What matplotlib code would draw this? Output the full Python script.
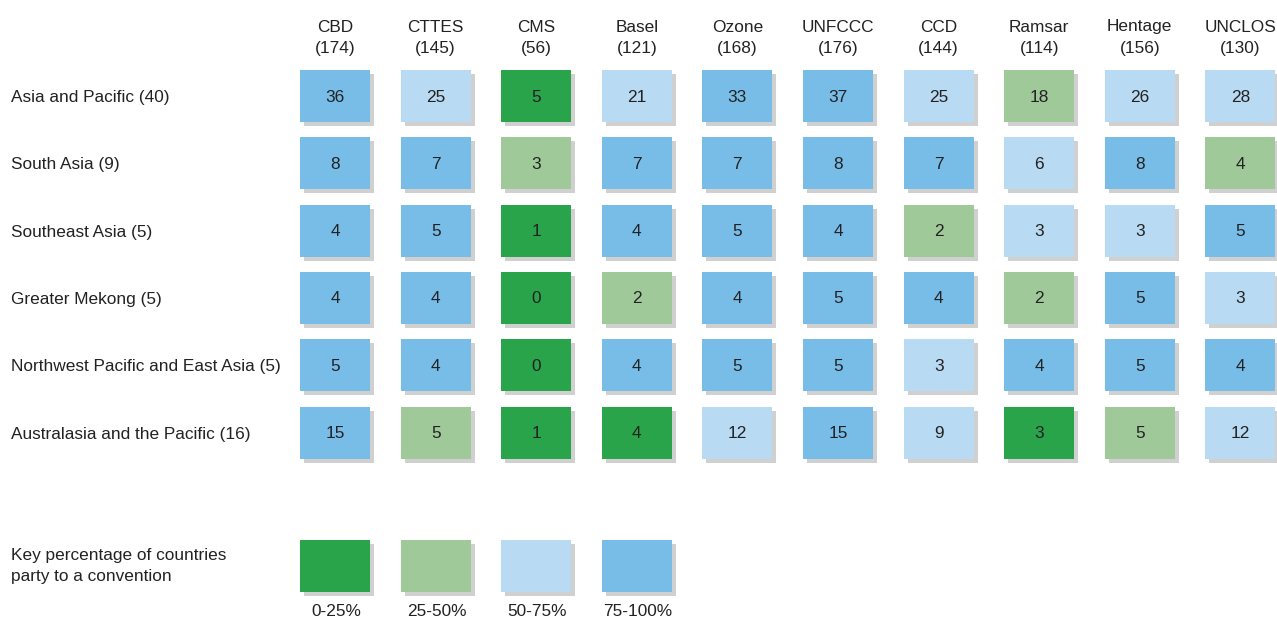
import matplotlib.pyplot as plt
from matplotlib.patches import Rectangle

# conventions and number of parties
conventions = ['CBD', 'CTTES', 'CMS', 'Basel', 'Ozone', 'UNFCCC', 'CCD', 'Ramsar', 'Hentage', 'UNCLOS']
parties = [174, 145, 56, 121, 168, 176, 144, 114, 156, 130]

regions = ['Asia and Pacific', 'South Asia', 'Southeast Asia', 'Greater Mekong',
           'Northwest Pacific and East Asia', 'Australasia and the Pacific']
region_sizes = [40, 9, 5, 5, 5, 16]

counts = [
    [36, 25, 5, 21, 33, 37, 25, 18, 26, 28],
    [8, 7, 3, 7, 7, 8, 7, 6, 8, 4],
    [4, 5, 1, 4, 5, 4, 2, 3, 3, 5],
    [4, 4, 0, 2, 4, 5, 4, 2, 5, 3],
    [5, 4, 0, 4, 5, 5, 3, 4, 5, 4],
    [15, 5, 1, 4, 12, 15, 9, 3, 5, 12],
]

key_labels = ['0-25%', '25-50%', '50-75%', '75-100%']
key_colors = ['#2aa44b', '#a0c999', '#b8daf2', '#78bde8']
shadow_color = '#d0d0d0'

plt.rcParams['font.family'] = ['Liberation Sans', 'DejaVu Sans']

fig = plt.figure(figsize=(12.77, 6.19), dpi=100)
ax = fig.add_axes([0, 0, 1, 1])
ax.set_xlim(0, 1277)
ax.set_ylim(619, 0)
ax.axis('off')

# layout in pixels
x0, dx = 335, 100.6
y0, dy = 96, 67.3
bw, bh = 70, 52
sh = 4
fs = 12.4
txt = '#222222'


def category(n, total):
    pct = 100.0 * n / total
    if pct <= 25:
        return 0
    if pct <= 50:
        return 1
    if pct <= 75:
        return 2
    return 3


def box(cx, cy, color):
    ax.add_patch(Rectangle((cx - bw / 2 + sh, cy - bh / 2 + sh), bw, bh,
                           facecolor=shadow_color, edgecolor='none'))
    ax.add_patch(Rectangle((cx - bw / 2, cy - bh / 2), bw, bh,
                           facecolor=color, edgecolor='none'))


for j, (name, p) in enumerate(zip(conventions, parties)):
    cx = x0 + j * dx
    ax.text(cx, 27, name, ha='center', va='center', fontsize=fs, color=txt)
    ax.text(cx, 48, f'({p})', ha='center', va='center', fontsize=fs, color=txt)

for i, (reg, size) in enumerate(zip(regions, region_sizes)):
    cy = y0 + i * dy
    ax.text(11, cy + 1.5, f'{reg} ({size})', ha='left', va='center', fontsize=fs, color=txt)
    for j, n in enumerate(counts[i]):
        cx = x0 + j * dx
        box(cx, cy, key_colors[category(n, size)])
        ax.text(cx, cy + 1, str(n), ha='center', va='center', fontsize=fs, color=txt)

# key
ky = 566
ax.text(11, ky, 'Key percentage of countries\nparty to a convention', ha='left', va='center',
        fontsize=fs, color=txt, linespacing=1.45)
for k, (lab, col) in enumerate(zip(key_labels, key_colors)):
    cx = x0 + k * dx
    box(cx, ky, col)
    ax.text(cx + 1, 611, lab, ha='center', va='center', fontsize=fs, color=txt)

fig.savefig('out.png', dpi=100)
